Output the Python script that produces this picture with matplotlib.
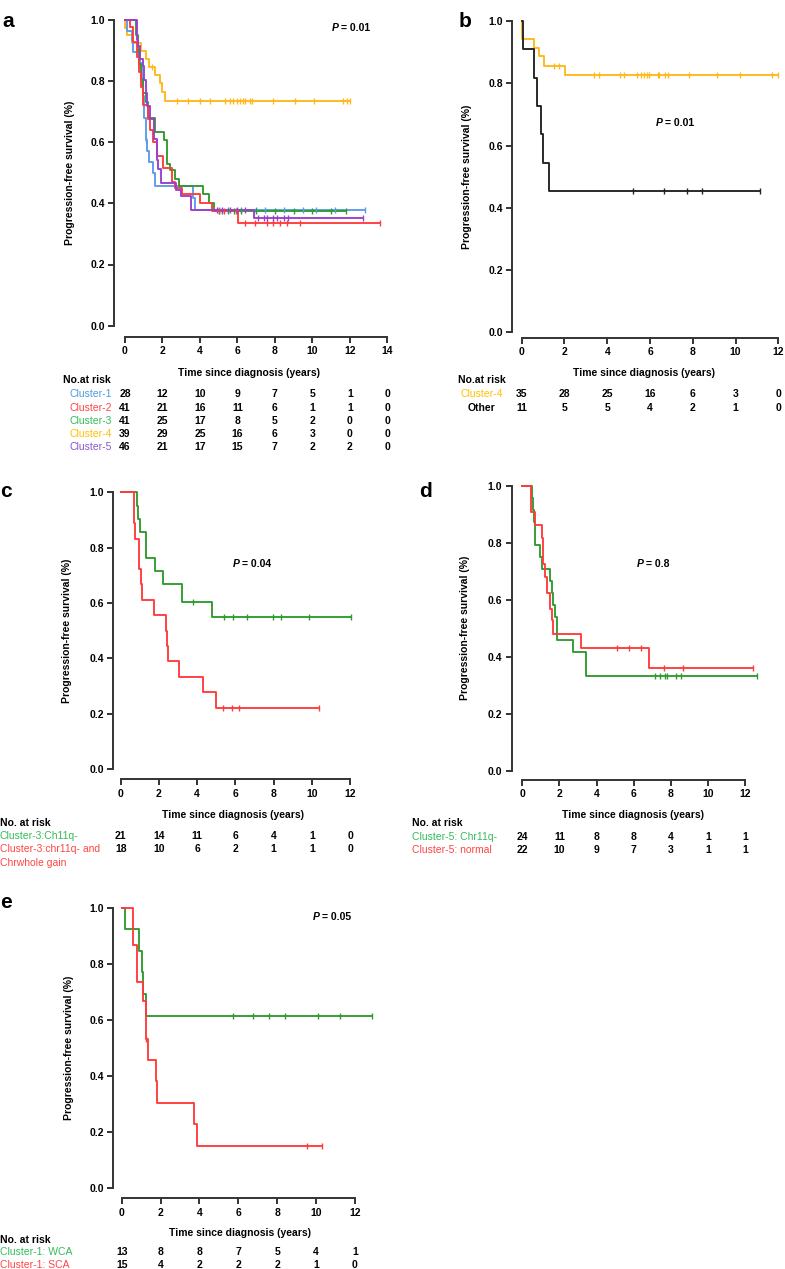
import numpy as np
import matplotlib
matplotlib.use('Agg')
import matplotlib.pyplot as plt
from matplotlib.transforms import blended_transform_factory

plt.rcParams['font.family'] = ['Liberation Sans', 'DejaVu Sans']
plt.rcParams['font.weight'] = 'bold'

# ---------------- data ----------------
# Panel a
a_c1_t = [0.1, 0.35, 0.45, 0.8, 0.9, 0.95, 1.0, 1.12, 1.19, 1.3, 1.5, 1.6, 3.61, 3.74]
a_c1_s = [0.964, 0.929, 0.893, 0.857, 0.821, 0.75, 0.679, 0.607, 0.571, 0.536, 0.5, 0.456, 0.418, 0.378]
a_c1_cens = [1.12, 5.0, 5.5, 6.2, 7.0, 7.5, 8.5, 9.5, 10.2, 11.2]
a_c1_end = 12.8

a_c2_t = [0.25, 0.45, 0.62, 0.75, 0.85, 0.98, 1.25, 1.33, 1.51, 1.73, 2.05, 2.53, 2.67, 3.03, 4.0, 4.63, 6.05]
a_c2_s = [0.976, 0.927, 0.878, 0.829, 0.78, 0.72, 0.675, 0.64, 0.6, 0.555, 0.515, 0.47, 0.45, 0.43, 0.40, 0.375, 0.337]
a_c2_cens = [5.0, 5.3, 5.9, 6.4, 6.95, 7.57, 7.92, 8.27, 8.63, 9.34]
a_c2_end = 13.6

a_c3_t = [0.6, 0.68, 0.75, 0.85, 0.95, 1.12, 1.25, 1.6, 2.08, 2.26, 2.4, 2.67, 2.9, 4.15, 4.5, 4.77]
a_c3_s = [0.951, 0.902, 0.854, 0.805, 0.76, 0.73, 0.68, 0.632, 0.607, 0.53, 0.51, 0.48, 0.455, 0.43, 0.40, 0.375]
a_c3_cens = [5.0, 5.2, 5.5, 5.8, 6.2, 7.0, 8.0, 9.0, 10.0, 11.0]
a_c3_end = 11.8

a_c4_t = [0.02, 0.1, 0.4, 0.85, 1.1, 1.3, 1.6, 1.87, 1.96, 2.14]
a_c4_s = [0.974, 0.949, 0.923, 0.897, 0.872, 0.846, 0.82, 0.792, 0.763, 0.735]
a_c4_cens = [1.45, 2.76, 3.38, 4.0, 4.54, 5.34, 5.6, 5.78, 5.96, 6.14, 6.28, 6.4,
             6.67, 6.76, 7.92, 9.07, 10.09, 11.65, 11.83]
a_c4_end = 12.0

a_c5_t = [0.65, 0.7, 0.8, 0.95, 1.0, 1.1, 1.2, 1.35, 1.55, 1.7, 1.75, 1.9, 2.7, 3.0, 3.5, 6.9]
a_c5_s = [0.935, 0.913, 0.87, 0.848, 0.804, 0.76, 0.717, 0.674, 0.609, 0.543, 0.511, 0.467,
          0.445, 0.423, 0.378, 0.351]
a_c5_cens = [4.9, 5.2, 5.6, 6.0, 6.4, 7.1, 7.4, 7.6, 7.9, 8.1, 8.5, 8.7]
a_c5_end = 12.7

a_risk_labels = ['Cluster-1', 'Cluster-2', 'Cluster-3', 'Cluster-4', 'Cluster-5']
a_risk = [[28, 12, 10, 9, 7, 5, 1, 0],
          [41, 21, 16, 11, 6, 1, 1, 0],
          [41, 25, 17, 8, 5, 2, 0, 0],
          [39, 29, 25, 16, 6, 3, 0, 0],
          [46, 21, 17, 15, 7, 2, 2, 0]]

# Panel b
b_c4_t = [0.02, 0.58, 0.83, 1.04, 2.02]
b_c4_s = [0.943, 0.914, 0.886, 0.857, 0.826]
b_c4_cens = [1.5, 1.75, 3.38, 3.63, 4.6, 4.78, 5.4, 5.56, 5.72, 5.87, 5.97, 6.35, 6.42,
             6.7, 6.85, 7.83, 9.14, 10.2, 11.68]
b_c4_end = 12.0
b_oth_t = [0.08, 0.58, 0.7, 0.89, 0.98, 1.29]
b_oth_s = [0.909, 0.818, 0.727, 0.636, 0.545, 0.455]
b_oth_cens = [5.19, 6.67, 7.71, 8.41]
b_oth_end = 11.14
b_risk_labels = ['Cluster-4', 'Other']
b_risk = [[35, 28, 25, 16, 6, 3, 0],
          [11, 5, 5, 4, 2, 1, 0]]

# Panel c
c_g_t = [0.84, 0.9, 1.01, 1.3, 1.33, 1.8, 2.23, 3.19, 4.76]
c_g_s = [0.952, 0.905, 0.857, 0.810, 0.762, 0.714, 0.667, 0.605, 0.55]
c_g_cens = [3.77, 5.41, 5.9, 6.6, 7.99, 8.38, 9.83]
c_g_end = 12.04
c_r_t = [0.68, 0.72, 0.75, 0.96, 1.06, 1.1, 1.76, 2.38, 2.41, 2.5, 3.07, 4.33, 4.99]
c_r_s = [0.944, 0.889, 0.833, 0.722, 0.667, 0.611, 0.556, 0.5, 0.444, 0.389, 0.333, 0.278, 0.222]
c_r_cens = [5.37, 5.8, 6.2]
c_r_end = 10.4
c_risk_labels = ['Cluster-3:Ch11q-', 'Cluster-3:chr11q- and\nChrwhole gain']
c_risk = [[21, 14, 11, 6, 4, 1, 0],
          [18, 10, 6, 2, 1, 1, 0]]

# Panel d
d_g_t = [0.5, 0.59, 0.65, 0.68, 0.95, 1.04, 1.49, 1.62, 1.67, 1.76, 1.85, 1.89, 2.71, 3.43]
d_g_s = [0.958, 0.917, 0.875, 0.792, 0.75, 0.708, 0.667, 0.625, 0.583, 0.542, 0.5, 0.458, 0.417, 0.333]
d_g_cens = [7.14, 7.4, 7.68, 7.8, 8.28, 8.53]
d_g_end = 12.62
d_r_t = [0.45, 0.68, 1.04, 1.13, 1.22, 1.31, 1.49, 1.58, 1.67, 3.14, 6.84]
d_r_s = [0.909, 0.864, 0.818, 0.727, 0.682, 0.625, 0.568, 0.53, 0.48, 0.432, 0.36]
d_r_cens = [5.08, 5.76, 6.39, 7.63, 8.67]
d_r_end = 12.44
d_risk_labels = ['Cluster-5: Chr11q-', 'Cluster-5: normal']
d_risk = [[24, 11, 8, 8, 4, 1, 1],
          [22, 10, 9, 7, 3, 1, 1]]

# Panel e
e_g_t = [0.17, 0.91, 1.05, 1.12, 1.27]
e_g_s = [0.923, 0.846, 0.769, 0.692, 0.615]
e_g_cens = [5.71, 6.74, 7.56, 8.4, 10.08, 11.23]
e_g_end = 12.86
e_r_t = [0.57, 0.6, 0.77, 0.8, 1.08, 1.25, 1.37, 1.77, 1.83, 3.72, 3.86]
e_r_s = [0.933, 0.867, 0.8, 0.733, 0.667, 0.533, 0.457, 0.381, 0.305, 0.229, 0.152]
e_r_cens = [1.27, 9.51]
e_r_end = 10.29
e_risk_labels = ['Cluster-1: WCA', 'Cluster-1: SCA']
e_risk = [[13, 8, 8, 7, 5, 4, 1],
          [15, 4, 2, 2, 2, 1, 0]]

p_texts = ['0.01', '0.01', '0.04', '0.8', '0.05']

# ---------------- styles ----------------
BLUE, RED, GREEN, ORANGE, PURPLE, BLACK = '#5B9BEA', '#FF3B3B', '#2E9B2E', '#FFB81C', '#9A3FD0', '#222222'
T_BLUE, T_RED, T_GREEN, T_ORANGE, T_PURPLE = '#4A9BE0', '#FF4444', '#33BB5A', '#FFC000', '#8A55C8'

W, H = 785, 1269
fig = plt.figure(figsize=(W / 100, H / 100), dpi=100)


def fx(px):
    return px / W


def fy(py):
    return 1 - py / H


FS = 7.5


def make_axes(x0px, pxyr, y1px, y0px, spine_x, spine_y, xmax):
    pxunit = y0px - y1px
    xlo = (spine_x - x0px) / pxyr
    xhi = xmax * 1.04
    ylo = -(spine_y - y0px) / pxunit
    yhi = 1.04
    left = spine_x
    right = x0px + xhi * pxyr
    top = y1px - 0.04 * pxunit
    bottom = spine_y
    ax = fig.add_axes([fx(left), fy(bottom), (right - left) / W, (bottom - top) / H])
    ax.set_xlim(xlo, xhi)
    ax.set_ylim(ylo, yhi)
    ax.patch.set_alpha(0)
    for s in ['top', 'right']:
        ax.spines[s].set_visible(False)
    for s in ['left', 'bottom']:
        ax.spines[s].set_linewidth(1.4)
        ax.spines[s].set_color('#333333')
    ax.spines['left'].set_bounds(0, 1)
    ax.spines['bottom'].set_bounds(0, xmax)
    ax.set_xticks(np.arange(0, xmax + 1, 2))
    ax.set_yticks(np.arange(0, 1.01, 0.2))
    ax.set_yticklabels(['%.1f' % v for v in np.arange(0, 1.01, 0.2)])
    ax.tick_params(length=4.3, width=1.4, pad=2.5, labelsize=FS, direction='out', color='#333333')
    for lab in ax.get_xticklabels() + ax.get_yticklabels():
        lab.set_fontweight('bold')
    return ax


def km(ax, t, s, cens, end, color):
    xs = [0.0] + list(t) + [end]
    ys = [1.0] + list(s) + [s[-1]]
    ax.step(xs, ys, where='post', color=color, lw=1.35, clip_on=False, zorder=3)
    levels = np.array([1.0] + list(s))
    cx = np.array(list(cens) + [end])
    cy = levels[np.searchsorted(np.array(t), cx, side='right')]
    ax.plot(cx, cy, ls='none', marker='|', ms=4.5, mew=1.0, color=color, clip_on=False, zorder=4)


def risk_table(ax, risk, row_y):
    tr = blended_transform_factory(ax.transData, fig.transFigure)
    for row, py in zip(risk, row_y):
        for i, n in enumerate(row):
            ax.text(2 * i, fy(py), str(n), transform=tr, ha='center', va='center',
                    fontsize=FS, fontweight='bold', color='black')


def ptext(px, py, val):
    fig.text(fx(px), fy(py), 'P', fontsize=FS, fontweight='bold', fontstyle='italic',
             ha='left', va='center')
    fig.text(fx(px + 9), fy(py), '= ' + val, fontsize=FS, fontweight='bold', ha='left', va='center')


def ylabel(px, py):
    fig.text(fx(px), fy(py), 'Progression-free survival (%)', rotation=90, ha='center',
             va='center', fontsize=FS, fontweight='bold')


def xlabel(px, py):
    fig.text(fx(px), fy(py), 'Time since diagnosis (years)', ha='center', va='center',
             fontsize=FS, fontweight='bold')


def letter(px, py, s):
    fig.text(fx(px), fy(py), s, ha='left', va='baseline', fontsize=15, fontweight='bold')


# ---------------- panel a ----------------
axa = make_axes(125, 18.73, 19.7, 325.7, 114.3, 336.7, 14)
km(axa, a_c4_t, a_c4_s, a_c4_cens, a_c4_end, ORANGE)
km(axa, a_c1_t, a_c1_s, a_c1_cens, a_c1_end, BLUE)
km(axa, a_c3_t, a_c3_s, a_c3_cens, a_c3_end, GREEN)
km(axa, a_c2_t, a_c2_s, a_c2_cens, a_c2_end, RED)
km(axa, a_c5_t, a_c5_s, a_c5_cens, a_c5_end, PURPLE)
letter(2, 27, 'a')
ylabel(70, 173)
xlabel(249, 373)
ptext(331.7, 28, p_texts[0])
fig.text(fx(63), fy(380), 'No.at risk', ha='left', va='center', fontsize=FS, fontweight='bold')
a_rows = [394, 407.7, 421, 434, 447.3]
for lab, col, py in zip(a_risk_labels, [T_BLUE, T_RED, T_GREEN, T_ORANGE, T_PURPLE], a_rows):
    fig.text(fx(111.5), fy(py), lab, ha='right', va='center', fontsize=FS, fontweight='normal', color=col)
risk_table(axa, a_risk, a_rows)

# ---------------- panel b ----------------
axb = make_axes(521.7, 21.39, 21, 332.3, 512.3, 337.7, 12)
km(axb, b_c4_t, b_c4_s, b_c4_cens, b_c4_end, ORANGE)
km(axb, b_oth_t, b_oth_s, b_oth_cens, b_oth_end, BLACK)
letter(459, 27, 'b')
ylabel(467, 177)
xlabel(644, 373)
ptext(656, 123, p_texts[1])
fig.text(fx(482), fy(380), 'No.at risk', ha='center', va='center', fontsize=FS, fontweight='bold')
b_rows = [394, 407.7]
for lab, col, py in zip(b_risk_labels, [T_ORANGE, 'black'], b_rows):
    fig.text(fx(482), fy(py), lab, ha='center', va='center', fontsize=FS,
             fontweight='normal' if col != 'black' else 'bold', color=col)
risk_table(axb, b_risk, b_rows)

# ---------------- panel c ----------------
axc = make_axes(120.7, 19.11, 492.3, 769, 113.3, 779.3, 12)
km(axc, c_g_t, c_g_s, c_g_cens, c_g_end, GREEN)
km(axc, c_r_t, c_r_s, c_r_cens, c_r_end, RED)
letter(0, 497, 'c')
ylabel(67, 631)
xlabel(232.5, 815)
ptext(233.3, 564, p_texts[2])
fig.text(fx(0), fy(823), 'No. at risk', ha='left', va='center', fontsize=FS, fontweight='bold')
c_rows = [836, 849.3]
for lab, col, py in zip(c_risk_labels, [T_GREEN, T_RED], c_rows):
    for k, line in enumerate(lab.split('\n')):
        fig.text(fx(0), fy(py + 13.4 * k), line, ha='left', va='center', fontsize=FS,
                 fontweight='normal', color=col)
risk_table(axc, c_risk, c_rows)

# ---------------- panel d ----------------
axd = make_axes(522.3, 18.56, 486, 771, 511.7, 780, 12)
km(axd, d_g_t, d_g_s, d_g_cens, d_g_end, GREEN)
km(axd, d_r_t, d_r_s, d_r_cens, d_r_end, RED)
letter(419, 497, 'd')
ylabel(465, 628)
xlabel(632.5, 815)
ptext(636.7, 564, p_texts[3])
fig.text(fx(412), fy(823), 'No. at risk', ha='left', va='center', fontsize=FS, fontweight='bold')
d_rows = [836.7, 850]
for lab, col, py in zip(d_risk_labels, [T_GREEN, T_RED], d_rows):
    fig.text(fx(412), fy(py), lab, ha='left', va='center', fontsize=FS, fontweight='normal', color=col)
risk_table(axd, d_risk, d_rows)

# ---------------- panel e ----------------
axe = make_axes(121.7, 19.44, 907.5, 1188.3, 113.3, 1198.3, 12)
km(axe, e_g_t, e_g_s, e_g_cens, e_g_end, GREEN)
km(axe, e_r_t, e_r_s, e_r_cens, e_r_end, RED)
letter(0, 908, 'e')
ylabel(69, 1048)
xlabel(240, 1233)
ptext(313.3, 917, p_texts[4])
fig.text(fx(0), fy(1240), 'No. at risk', ha='left', va='center', fontsize=FS, fontweight='bold')
e_rows = [1252, 1265]
for lab, col, py in zip(e_risk_labels, [T_GREEN, T_RED], e_rows):
    fig.text(fx(0), fy(py), lab, ha='left', va='center', fontsize=FS, fontweight='normal', color=col)
risk_table(axe, e_risk, e_rows)

fig.savefig('out.png', dpi=100)
